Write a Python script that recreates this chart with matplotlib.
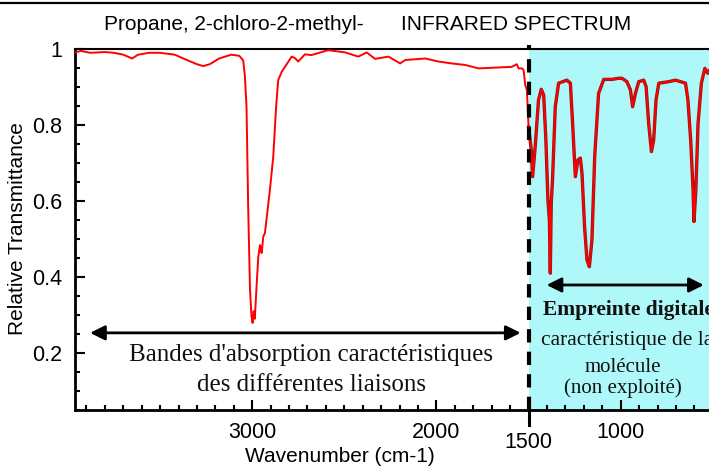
import matplotlib
matplotlib.use("Agg")
import matplotlib.pyplot as plt
from matplotlib.ticker import MultipleLocator, FixedLocator
from matplotlib.lines import Line2D

# spectrum (wavenumber cm-1, relative transmittance)
wavenumber = [3967, 3930, 3880, 3800, 3750, 3700, 3652, 3620, 3560, 3500, 3420, 3350,
              3300, 3266, 3230, 3180, 3114, 3070, 3049, 3040, 3031, 3022, 3012, 3004,
              2998, 2992, 2986, 2976, 2967, 2958, 2952, 2949, 2940, 2931, 2904, 2886,
              2870, 2859, 2840, 2822, 2786, 2768, 2750, 2714, 2679, 2587, 2496, 2424,
              2379, 2333, 2261, 2197, 2170, 2061, 1989, 1917, 1844, 1772, 1681, 1591,
              1564, 1554, 1536, 1527, 1518, 1509, 1500, 1485, 1478, 1464, 1446, 1431,
              1418, 1406, 1395, 1387, 1382, 1377, 1370, 1355, 1337, 1292, 1273, 1261,
              1246, 1232, 1219, 1210, 1196, 1183, 1170, 1156, 1141, 1120, 1092, 1047,
              1011, 993, 966, 947, 935, 920, 902, 875, 862, 848, 833, 821, 808, 793,
              739, 702, 648, 635, 620, 607, 602, 592, 580, 562, 543, 527, 510]
transmittance = [0.99, 0.995, 0.99, 0.992, 0.99, 0.985, 0.975, 0.985, 0.99, 0.99, 0.985, 0.97,
                 0.96, 0.955, 0.96, 0.975, 0.985, 0.982, 0.97, 0.93, 0.848, 0.585, 0.366, 0.296,
                 0.279, 0.31, 0.29, 0.38, 0.453, 0.484, 0.47, 0.463, 0.506, 0.516, 0.629, 0.716,
                 0.85, 0.918, 0.94, 0.953, 0.98, 0.976, 0.967, 0.986, 0.984, 0.997, 0.991, 0.98,
                 0.991, 0.974, 0.98, 0.962, 0.971, 0.975, 0.967, 0.962, 0.958, 0.949, 0.951, 0.953,
                 0.96, 0.949, 0.949, 0.945, 0.905, 0.892, 0.795, 0.734, 0.664, 0.743, 0.866, 0.894,
                 0.879, 0.761, 0.603, 0.55, 0.41, 0.594, 0.655, 0.848, 0.91, 0.918, 0.91, 0.805,
                 0.664, 0.708, 0.713, 0.673, 0.532, 0.445, 0.427, 0.497, 0.717, 0.883, 0.92, 0.92,
                 0.923, 0.923, 0.914, 0.892, 0.848, 0.883, 0.914, 0.918, 0.901, 0.804, 0.73, 0.76,
                 0.866, 0.91, 0.914, 0.918, 0.91, 0.866, 0.76, 0.629, 0.546, 0.629, 0.804, 0.91,
                 0.949, 0.936, 0.95]

x_major = [3000, 2000, 1000]
x_labels = ["3000", "2000", "1000"]
y_major = [0.2, 0.4, 0.6, 0.8, 1.0]
y_labels = ["0.2", "0.4", "0.6", "0.8", "1"]

W, H = 709, 467
fig = plt.figure(figsize=(W / 100, H / 100), dpi=100)
ax = fig.add_axes([75 / W, 57 / H, 647 / W, 361 / H])

sans = "Liberation Sans"
serif = "Liberation Serif"

ax.axvspan(1500, 400, color="#aef8fa", zorder=0, lw=0)

# in the shaded part the trace looks outlined in dark red
fp = [i for i, w in enumerate(wavenumber) if w <= 1506]
ax.plot([wavenumber[i] for i in fp], [transmittance[i] for i in fp],
        color="#8a1818", lw=2.4, zorder=2)
ax.plot(wavenumber, transmittance, color="#ff0000", lw=1.4, zorder=3)

ax.add_line(Line2D([1500, 1500], [0, 1.012], transform=ax.get_xaxis_transform(),
                   color="black", lw=3, dashes=(3.2, 2.2), zorder=4, clip_on=False))

ax.set_xlim(3962, 450)
ax.set_ylim(0.05, 1.0)

ax.xaxis.set_major_locator(FixedLocator(x_major))
ax.set_xticklabels(x_labels)
ax.xaxis.set_minor_locator(MultipleLocator(100))
ax.yaxis.set_major_locator(FixedLocator(y_major))
ax.set_yticklabels(y_labels)
ax.yaxis.set_minor_locator(MultipleLocator(0.05))
ax.tick_params(which="both", direction="in", top=False, right=False, width=1.5)
ax.tick_params(which="major", length=7, labelsize=15.5, pad=9)
ax.tick_params(which="minor", length=3.6)
for lab in ax.get_xticklabels() + ax.get_yticklabels():
    lab.set_fontfamily(sans)

ax.spines["left"].set_linewidth(2)
ax.spines["bottom"].set_linewidth(2)
ax.spines["top"].set_linewidth(1.5)
ax.spines["right"].set_visible(False)

# 1500 tick below the axis and its lowered label
bt = ax.get_xaxis_transform()
ax.add_line(Line2D([1500, 1500], [0, -15 / 361], transform=bt, color="black",
                   lw=2.2, clip_on=False))
ax.text(1500, -33 / 361, "1500", transform=bt, ha="center", va="center",
        fontsize=15.5, family=sans)

# arrows
ax.annotate("", xy=(3880, 0.253), xytext=(1543, 0.253),
            arrowprops=dict(arrowstyle="<|-|>", color="black", lw=2,
                            mutation_scale=22, shrinkA=0, shrinkB=0))
ax.annotate("", xy=(1402, 0.379), xytext=(549, 0.379), annotation_clip=False,
            arrowprops=dict(arrowstyle="<|-|>", color="black", lw=2,
                            mutation_scale=22, shrinkA=0, shrinkB=0))

ax.text(2679, 0.195, "Bandes d'absorption caractéristiques", ha="center", va="center",
        fontsize=18, family=serif, color="#111111")
ax.text(2679, 0.116, "des différentes liaisons", ha="center", va="center",
        fontsize=18, family=serif, color="#111111")

# these two lines run past the right edge, as in the source image
ax.text(1420, 0.313, "Empreinte digitale", ha="left", va="center", fontsize=15.5,
        family=serif, weight="bold", color="#111111", clip_on=False)
ax.text(1430, 0.234, "caractéristique de la", ha="left", va="center", fontsize=15.5,
        family=serif, color="#111111", clip_on=False)
ax.text(989, 0.161, "molécule", ha="center", va="center", fontsize=15,
        family=serif, color="#111111")
ax.text(989, 0.108, "(non exploité)", ha="center", va="center", fontsize=15,
        family=serif, color="#111111")

# titles and axis labels
fig.text(104 / W, 1 - 25 / H, "Propane, 2-chloro-2-methyl-", ha="left", va="center",
         fontsize=15, family=sans)
fig.text(401 / W, 1 - 25 / H, "INFRARED SPECTRUM", ha="left", va="center",
         fontsize=15, family=sans)
fig.text(18 / W, 1 - 229 / H, "Relative Transmittance", rotation=90, ha="center",
         va="center", fontsize=15, family=sans)
fig.text(340 / W, 1 - 457 / H, "Wavenumber (cm-1)", ha="center", va="center",
         fontsize=15, family=sans)

# border line at the very top
fig.add_artist(Line2D([0, 1], [1 - 2.5 / H, 1 - 2.5 / H], color="black", lw=1.6))

fig.savefig("out.png", dpi=100)
